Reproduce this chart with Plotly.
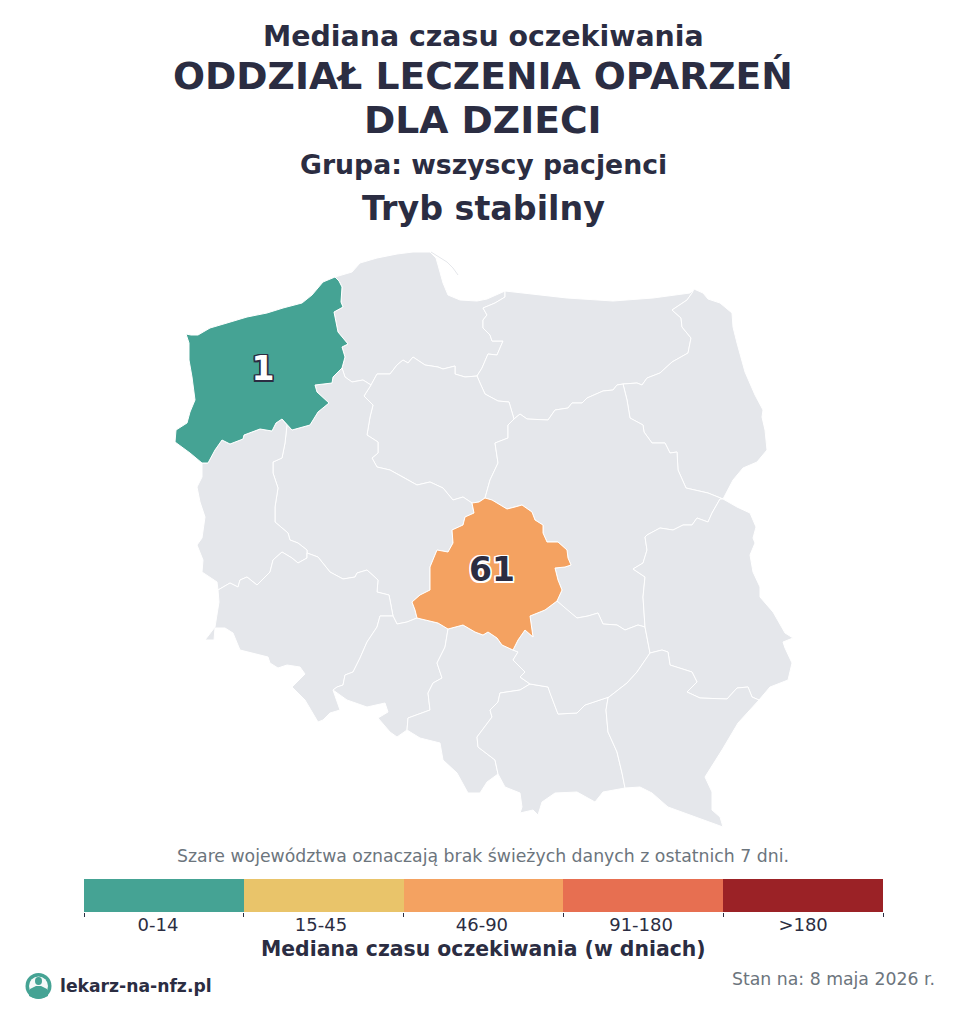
import plotly.graph_objects as go
from plotly.subplots import make_subplots

DARK = "#2B2D42"
GREY_TEXT = "#6C757D"
LAND = "#E5E7EB"
FONT = "DejaVu Sans"

# legend bins
bin_labels = ["0-14", "15-45", "46-90", "91-180", ">180"]
bin_colors = ["#45A394", "#E9C46A", "#F4A261", "#E76F51", "#9B2226"]
bin_edges = [0, 1, 2, 3, 4, 5]
bin_label_pos = [0.463, 1.483, 2.49, 3.486, 4.5]

# borders between voivodeships (map units)
zp_coast = [(186,334),(191,335),(198,335),(210,328),(227,323),(247,317),(267,313),(283,308),(302,303),(312,295),(323,282),(335,277)]
zp_pom = [(335,277),(339,281),(342,287),(341,302),(343,307),(334,312),(336,322),(338,332),(343,338),(348,344),(342,347),(345,357),(342,368)]
zp_wlk = [(342,368),(333,377),(332,383),(315,385),(317,392),(329,403),(318,412),(310,425),(292,430),(287,425)]
zp_lub = [(287,425),(282,419),(276,423),(272,431),(260,429),(244,435),(243,439),(230,444),(222,440),(215,450),(208,463),(202,463)]
zp_west = [(202,463),(190,453),(175,442),(176,430),(187,423),(190,412),(195,400),(192,377),(189,360),(189,343),(186,334)]
pom_coast = [(335,277),(352,272),(360,263),(377,258),(397,254),(413,252),(430,252),(436,258),(438,265),(443,283),(448,295),(460,300),(477,301),(487,299),(505,291)]
pom_wm = [(505,291),(505,297),(495,303),(483,308),(487,315),(483,320),(483,328),(490,335),(492,341),(503,341),(497,355),(488,354),(482,368),(477,376)]
pom_wlk = [(342,368),(345,377),(352,382),(363,380),(371,385)]
pom_kuj = [(371,385),(377,374),(390,374),(397,365),(403,360),(408,363),(413,357),(425,365),(438,367),(443,369),(455,366),(455,374),(465,377),(477,376)]
kuj_wm = [(477,376),(480,383),(485,394),(498,401),(509,402),(514,419)]
kuj_maz = [(514,419),(508,425),(508,438),(495,443),(498,463),(490,480),(485,498)]
kuj_wlk = [(371,385),(364,396),(373,405),(370,417),(367,435),(378,442),(378,453),(372,458),(377,467),(390,470),(403,477),(417,485),(430,482),(443,488),(453,500),(463,497),(472,503)]
kuj_lod = [(472,503),(479,502),(485,498)]
wm_coast = [(505,291),(537,295),(567,298),(613,301),(653,298),(690,293),(694,289)]
wm_maz = [(514,419),(520,414),(527,419),(548,420),(555,410),(568,408),(572,403),(582,403),(587,398),(603,391),(613,390),(617,385),(623,384)]
wm_pod = [(623,384),(637,383),(642,385),(647,378),(660,373),(672,362),(688,353),(691,338),(682,327),(681,318),(672,310),(687,300),(692,293),(694,289)]
pod_east = [(694,289),(703,293),(708,299),(720,303),(732,313),(733,327),(737,343),(745,372),(755,395),(763,410),(762,417),(765,430),(767,450),(757,462),(743,468),(733,480),(723,499)]
pod_maz = [(623,384),(627,400),(630,418),(643,425),(644,432),(652,443),(665,443),(670,453),(677,452),(678,470),(686,488),(708,493),(718,497),(723,499)]
maz_lub = [(723,499),(720,499),(712,513),(708,522),(697,518),(692,525),(683,525),(673,530),(660,528),(647,535),(645,537),(647,550),(643,563),(633,569),(645,577),(643,597),(645,627)]
maz_swi = [(645,627),(638,625),(625,630),(617,625),(603,624),(598,613),(588,616),(577,618),(567,610),(557,601)]
maz_lod = [(557,601),(562,590),(558,580),(555,568),(565,567),(571,565),(568,558),(567,550),(558,542),(547,542),(543,533),(543,525),(535,520),(532,512),(522,505),(515,507),(507,509),(497,503),(492,500),(485,498)]
lod_swi = [(557,601),(545,610),(530,616),(533,637),(525,630),(518,640),(513,650)]
lod_slk = [(513,650),(502,645),(497,638),(488,632),(483,635),(475,632),(463,625),(448,629)]
opo_lod = [(417,618),(438,623),(448,629)]
wlk_lod = [(472,503),(474,513),(465,517),(463,525),(452,530),(453,543),(448,552),(437,550),(430,567),(430,590),(420,595),(412,602),(415,610),(417,618)]
wlk_opo = [(417,618),(407,622),(397,624),(393,616)]
wlk_dol = [(393,616),(389,595),(377,592),(378,580),(367,570),(357,573),(355,577),(343,579),(330,572),(323,563),(318,557),(307,553)]
lub_wlk = [(287,425),(285,443),(282,458),(273,462),(273,473),(278,488),(275,507),(275,522),(288,533),(290,540),(298,543),(307,550),(307,553)]
lub_dol = [(307,553),(307,558),(298,563),(292,558),(282,552),(273,560),(270,572),(257,585),(247,577),(240,580),(238,587),(230,583),(218,590)]
lub_west = [(202,463),(202,477),(197,487),(200,502),(205,517),(202,538),(197,545),(203,560),(202,572),(217,582),(218,590)]
dol_south = [(218,590),(219,602),(215,627),(205,640),(214,640),(215,628),(225,628),(233,633),(240,650),(268,657),(270,663),(278,668),(287,665),(300,667),(305,674),(292,687),(305,700),(318,722),(323,720),(330,713),(340,710),(333,690)]
dol_opo = [(393,616),(380,616),(377,627),(367,642),(360,658),(353,672),(345,675),(343,685),(337,687),(333,690)]
opo_south = [(333,690),(347,700),(367,707),(385,703),(388,712),(378,718),(390,732),(397,737),(407,730)]
opo_slk = [(448,629),(447,637),(445,647),(437,663),(442,678),(433,683),(428,693),(430,710),(408,718),(407,730)]
slk_south = [(407,730),(420,738),(440,743),(443,760),(457,773),(468,793),(480,793),(487,782),(498,774)]
mal_slk = [(498,774),(495,760),(478,747),(477,737),(492,717),(490,710),(498,702),(500,693),(520,690),(530,684)]
swi_slk = [(530,684),(520,677),(525,672),(513,660),(518,652),(513,650)]
mal_south = [(498,774),(505,787),(520,793),(522,807),(520,813),(533,810),(538,815),(542,802),(555,793),(577,792),(595,802),(603,792),(625,788)]
mal_pdk = [(625,788),(622,773),(617,752),(608,732),(606,710),(608,698),(609,697)]
swi_mal = [(609,697),(585,705),(577,713),(558,714),(550,693),(548,687),(530,684)]
lub_swi = [(645,627),(650,653)]
swi_pdk = [(650,653),(637,672),(627,683),(609,697)]
lub_pdk = [(759,700),(752,697),(748,687),(737,688),(727,699),(700,698),(687,692),(697,682),(692,672),(670,665),(668,652),(662,650),(650,653)]
lub_east = [(723,499),(737,507),(750,513),(756,527),(753,538),(755,543),(750,555),(753,572),(760,587),(760,597),(773,612),(785,633),(793,638),(783,642),(785,648),(792,663),(788,680),(770,687),(759,700)]
pdk_south = [(625,788),(640,787),(652,793),(668,807),(683,813),(703,820),(723,827),(720,817),(712,810),(712,792),(705,777),(722,750),(738,723),(759,700)]
hel_spit = [(431,252),(438,256),(447,262),(453,268),(458,275)]


def ring(*chains):
    pts = []
    for c in chains:
        pts += c
    return pts


def rev(c):
    return c[::-1]


regions = {
    "pomorskie": ring(pom_coast, pom_wm, rev(pom_kuj), rev(pom_wlk), rev(zp_pom)),
    "warminsko-mazurskie": ring(wm_coast, rev(wm_pod), rev(wm_maz), rev(kuj_wm), rev(pom_wm)),
    "podlaskie": ring(pod_east, rev(pod_maz), wm_pod),
    "kujawsko-pomorskie": ring(pom_kuj, kuj_wm, kuj_maz, rev(kuj_lod), rev(kuj_wlk)),
    "mazowieckie": ring(wm_maz, pod_maz, maz_lub, maz_swi, maz_lod, rev(kuj_maz)),
    "wielkopolskie": ring(rev(zp_wlk), pom_wlk, kuj_wlk, wlk_lod, wlk_opo, wlk_dol, rev(lub_wlk)),
    "lubuskie": ring(zp_lub, lub_west, rev(lub_dol), rev(lub_wlk)),
    "dolnoslaskie": ring(lub_dol, dol_south, rev(dol_opo), wlk_dol),
    "opolskie": ring(dol_opo, opo_south, rev(opo_slk), rev(opo_lod), wlk_opo),
    "slaskie": ring(opo_slk, slk_south, mal_slk, swi_slk, lod_slk),
    "malopolskie": ring(rev(mal_slk), mal_south, mal_pdk, swi_mal),
    "swietokrzyskie": ring(rev(maz_swi), lub_swi, swi_pdk, swi_mal, swi_slk, rev(lod_swi)),
    "lubelskie": ring(rev(maz_lub), lub_east, lub_pdk, rev(lub_swi)),
    "podkarpackie": ring(mal_pdk, rev(swi_pdk), rev(lub_pdk), rev(pdk_south)),
    "zachodniopomorskie": ring(zp_coast, zp_pom, zp_wlk, zp_lub, zp_west),
    "lodzkie": ring(kuj_lod, rev(maz_lod), lod_swi, lod_slk, rev(opo_lod), rev(wlk_lod)),
}
region_colors = {"zachodniopomorskie": bin_colors[0], "lodzkie": bin_colors[2]}

# waiting time labels
value_regions = ["zachodniopomorskie", "lodzkie"]
value_labels = ["1", "61"]
value_x = [263, 492]
value_y = [372, 573]

fig = make_subplots(rows=1, cols=1)

for name, pts in regions.items():
    fig.add_trace(go.Scatter(
        x=[p[0] for p in pts] + [pts[0][0]],
        y=[p[1] for p in pts] + [pts[0][1]],
        mode="lines", fill="toself",
        fillcolor=region_colors.get(name, LAND),
        line=dict(color="white", width=1),
        hoverinfo="skip", name=name,
    ))

fig.add_trace(go.Scatter(
    x=[p[0] for p in hel_spit], y=[p[1] for p in hel_spit],
    mode="lines", line=dict(color=LAND, width=1), hoverinfo="skip",
))


def outline(col, r=1.5):
    return ",".join(f"{dx}px {dy}px 0 {col}" for dx in (-r, 0, r) for dy in (-r, 0, r))


fig.add_trace(go.Scatter(
    x=value_x[:1], y=value_y[:1], mode="text", text=value_labels[:1],
    textfont=dict(family=FONT, size=33, weight="bold", color="white", shadow=outline(DARK)),
    hoverinfo="skip",
))
fig.add_trace(go.Scatter(
    x=value_x[1:], y=value_y[1:], mode="text", text=value_labels[1:],
    textfont=dict(family=FONT, size=33, weight="bold", color=DARK, shadow=outline("white")),
    hoverinfo="skip",
))

# legend strip
for i, col in enumerate(bin_colors):
    fig.add_trace(go.Bar(
        x=[bin_edges[i + 1] - bin_edges[i]], y=[0], base=[bin_edges[i]], orientation="h",
        marker=dict(color=col, line=dict(width=0)), width=1, xaxis="x2", yaxis="y2",
        hoverinfo="skip",
    ))

W, H = 960, 1025
titles = [
    ("Mediana czasu oczekiwania", 483, 36, 28.4, True, DARK),
    ("ODDZIAŁ LECZENIA OPARZEŃ", 483, 76, 37.7, True, DARK),
    ("DLA DZIECI", 483, 120, 37.7, True, DARK),
    ("Grupa: wszyscy pacjenci", 483, 164, 26.7, True, DARK),
    ("Tryb stabilny", 483, 208, 33.3, True, DARK),
    ("Szare województwa oznaczają brak świeżych danych z ostatnich 7 dni.", 483, 856, 17.3, False, GREY_TEXT),
    ("Mediana czasu oczekiwania (w dniach)", 483, 949, 20.4, True, DARK),
]
annotations = [
    dict(text=t, x=x, y=y, xref="x", yref="y", xanchor="center", yanchor="middle", showarrow=False,
         font=dict(family=FONT, size=s, color=c, weight="bold" if b else "normal"))
    for t, x, y, s, b, c in titles
]
annotations.append(dict(text="lekarz-na-nfz.pl", x=58, y=986, xref="x", yref="y", xanchor="left", yanchor="middle",
                        showarrow=False, font=dict(family=FONT, size=17.2, color=DARK, weight="bold")))
annotations.append(dict(text="Stan na: 8 maja 2026 r.", x=937, y=979, xref="x", yref="y", xanchor="right", yanchor="middle",
                        showarrow=False, font=dict(family=FONT, size=17.3, color=GREY_TEXT)))

# logo
TEAL = bin_colors[0]
logo = [
    dict(type="circle", x0=25.5, x1=51.5, y0=973, y1=999, fillcolor=TEAL, line=dict(width=0)),
    dict(type="circle", x0=29, x1=48, y0=976.5, y1=995.5, fillcolor="#F4F9F8", line=dict(width=0)),
    dict(type="circle", x0=35, x1=42, y0=977, y1=985, fillcolor=TEAL, line=dict(width=0)),
    dict(type="path", path="M 29 996 L 30 989 L 36 986 L 41 986 L 47 989 L 48 996 Q 38.5 1001 29 996 Z",
         fillcolor=TEAL, line=dict(width=0)),
]

fig.update_layout(
    width=W, height=H,
    autosize=False,
    margin=dict(l=0, r=0, t=0, b=0),
    paper_bgcolor="white", plot_bgcolor="white",
    showlegend=False,
    barmode="overlay", bargap=0,
    annotations=annotations,
    shapes=logo,
    xaxis=dict(range=[0, W], domain=[0, 1], visible=False, fixedrange=True),
    yaxis=dict(range=[H, 0], domain=[0, 1], visible=False, fixedrange=True),
    xaxis2=dict(
        domain=[84 / W, 883 / W], range=[0, 5], anchor="y2",
        showgrid=False, zeroline=False, showline=False,
        tickmode="array", tickvals=bin_label_pos, ticktext=bin_labels, ticks="",
        tickfont=dict(family=FONT, size=18, color=DARK),
        minor=dict(tickmode="array", tickvals=bin_edges, ticks="outside", ticklen=4, tickwidth=1, tickcolor=DARK, showgrid=False),
    ),
    yaxis2=dict(
        domain=[1 - 912 / H, 1 - 879 / H], range=[-0.5, 0.5], anchor="x2",
        visible=False, fixedrange=True,
    ),
)

# the page's default body margin would push the fixed-size figure 8px off
fig.write_html("out.html", config={"displayModeBar": False},
               post_script="document.body.style.margin='0';document.body.style.overflow='hidden';")
